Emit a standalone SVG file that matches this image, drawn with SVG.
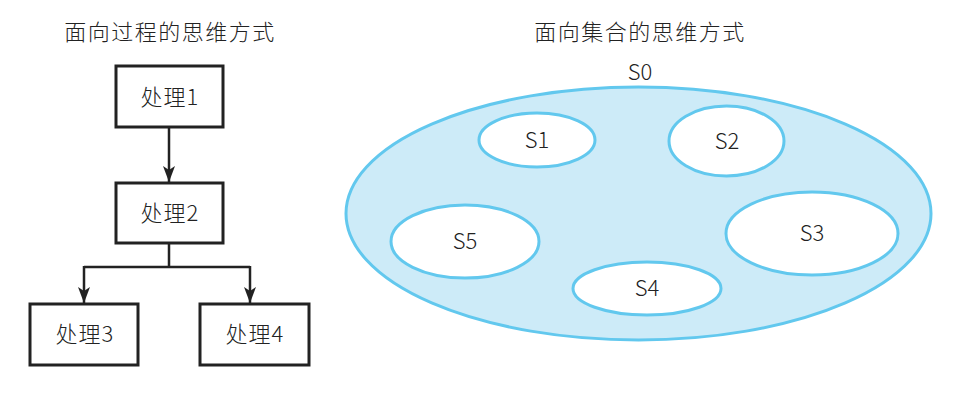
<svg xmlns="http://www.w3.org/2000/svg" width="970" height="406" viewBox="0 0 970 406">
<style>
text{font-family:"Noto Sans CJK SC","Noto Sans",sans-serif;font-size:22px;fill:#222;text-anchor:middle;font-weight:300}
.title{letter-spacing:1.5px}
.lbl{letter-spacing:1px}
.box{fill:#fff;stroke:#222;stroke-width:3}
.set{fill:#fff;stroke:#62c8ee;stroke-width:3}
.conn{fill:none;stroke:#222;stroke-width:2.5}
</style>
<defs>
<marker id="ah" viewBox="0 0 16 12" refX="16" refY="6" markerWidth="16" markerHeight="12" orient="auto" markerUnits="userSpaceOnUse">
<path d="M0,0 L16,6 L0,12 L4,6 z" fill="#222"/>
</marker>
</defs>
<rect width="970" height="406" fill="#fff"/>
<text class="title" x="170" y="40">面向过程的思维方式</text>
<text class="title" x="640" y="40">面向集合的思维方式</text>
<g id="connectors">
<path class="conn" d="M169,127 V182" marker-end="url(#ah)"/>
<path class="conn" d="M169,243 V267 M84,267 H250"/>
<path class="conn" d="M84,266 V303" marker-end="url(#ah)"/>
<path class="conn" d="M250,266 V303" marker-end="url(#ah)"/>
</g>
<g id="p1"><rect class="box" x="116" y="66" width="107" height="61"/><text class="lbl" x="170" y="105">处理1</text></g>
<g id="p2"><rect class="box" x="116" y="183" width="107" height="60"/><text class="lbl" x="170" y="221">处理2</text></g>
<g id="p3"><rect class="box" x="30" y="304" width="108" height="61"/><text class="lbl" x="85" y="342">处理3</text></g>
<g id="p4"><rect class="box" x="200" y="304" width="109" height="61"/><text class="lbl" x="255" y="342">处理4</text></g>
<g id="S0"><ellipse cx="638.5" cy="213.5" rx="292.5" ry="126.5" fill="#cdebf8" stroke="#62c8ee" stroke-width="3"/><text x="640" y="80">S0</text></g>
<g id="S1"><ellipse class="set" cx="537" cy="140" rx="58" ry="27"/><text x="537" y="148">S1</text></g>
<g id="S2"><ellipse class="set" cx="726.5" cy="141" rx="57.5" ry="35"/><text x="727" y="149">S2</text></g>
<g id="S3"><ellipse class="set" cx="812" cy="233.5" rx="86" ry="41.5"/><text x="812" y="241">S3</text></g>
<g id="S4"><ellipse class="set" cx="647" cy="288.5" rx="74" ry="26.5"/><text x="647" y="296">S4</text></g>
<g id="S5"><ellipse class="set" cx="465" cy="241.5" rx="74" ry="36.5"/><text x="465" y="249">S5</text></g>
</svg>
